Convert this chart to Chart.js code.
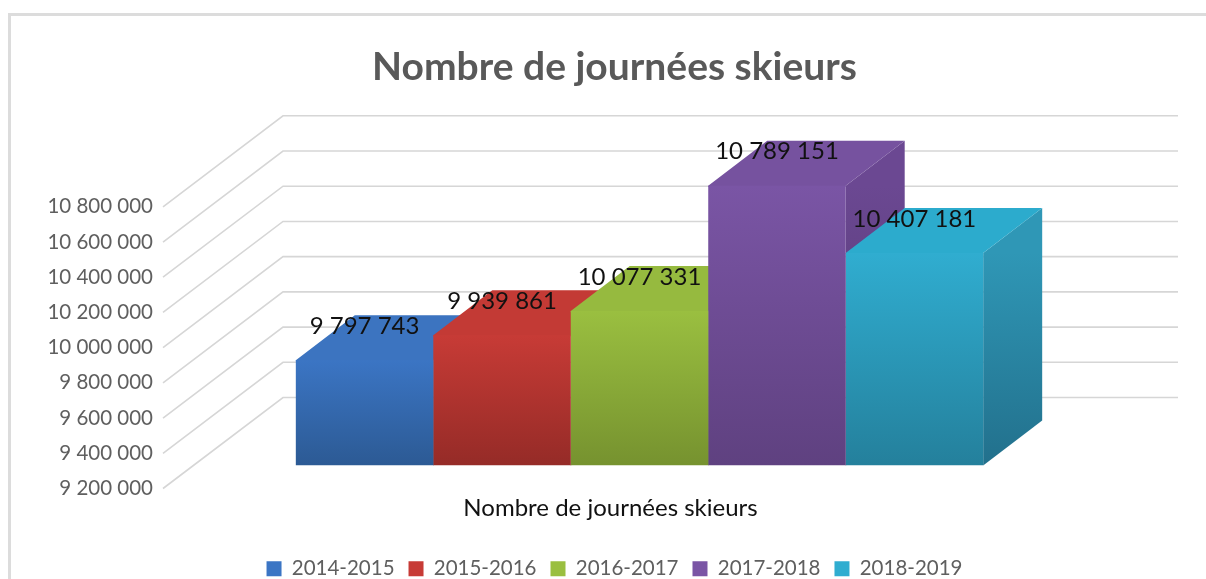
<!DOCTYPE html>
<html lang="fr">
<head>
  <meta charset="UTF-8">
  <title>Nombre de journées skieurs</title>
  <script src="https://cdn.jsdelivr.net/npm/chart.js"></script>
  <style>
    html, body { margin: 0; padding: 0; background: #fff; overflow: hidden; }
    #wrap { position: relative; width: 1206px; height: 579px; }
    #frame { position: absolute; left: 8px; top: 13px; width: 1300px; height: 700px; border: 3px solid #dcdcdc; }
    canvas { position: absolute; left: 0; top: 0; }
  </style>
</head>
<body>
  <div id="wrap">
    <div id="frame"></div>
    <canvas id="chart" width="1206" height="579"></canvas>
  </div>

  <script>
    const categories = ['Nombre de journées skieurs'];
    const seasons = ['2014-2015', '2015-2016', '2016-2017', '2017-2018', '2018-2019'];
    const skierDays = [9797743, 9939861, 10077331, 10789151, 10407181];
    const axisMin = 9200000;
    const axisMax = 10800000;
    const axisStep = 200000;

    // front face gradient, top and bottom of a bar
    const topColors = ['#3b75c4', '#c73b36', '#9abf40', '#7a55a5', '#30add0'];
    const bottomColors = ['#2c5a94', '#952b27', '#76922f', '#5f4180', '#24809c'];
    const sideTop = ['#33659f', '#ab322e', '#84a337', '#6b4892', '#2f97b6'];
    const sideBottom = ['#264c7d', '#7e2421', '#637b28', '#50376c', '#22708c'];
    const roofColors = ['#3c74c0', '#c33a35', '#96ba3f', '#76529f', '#2cabcd'];

    // oblique projection of the 3D box
    const wallDepth = { x: 120, y: -91 };
    const barOffset = { x: 29, y: -23 };
    const barDepth = { x: 59, y: -45 };

    const spaced = v => String(v).replace(/\B(?=(\d{3})+$)/g, ' ');

    function frontGradient(ctx) {
      const i = ctx.datasetIndex;
      const y = ctx.chart.scales.y;
      if (ctx.type !== 'data' || !y) return topColors[i];
      const top = y.getPixelForValue(skierDays[i]);
      // the scale has no size yet on the first pass
      if (!isFinite(top) || !isFinite(y.bottom)) return topColors[i];
      const g = ctx.chart.ctx.createLinearGradient(0, top, 0, y.bottom);
      g.addColorStop(0, topColors[i]);
      g.addColorStop(1, bottomColors[i]);
      return g;
    }

    function poly(ctx, pts, fill) {
      ctx.beginPath();
      pts.forEach((p, n) => n ? ctx.lineTo(p[0], p[1]) : ctx.moveTo(p[0], p[1]));
      ctx.closePath();
      ctx.fillStyle = fill;
      ctx.fill();
    }

    const box3d = {
      id: 'box3d',
      beforeDatasetsDraw(chart) {
        const ctx = chart.ctx;
        const yScale = chart.scales.y;
        const left = yScale.right;
        const farRight = chart.scales.x.right + wallDepth.x;

        // walls
        ctx.save();
        ctx.strokeStyle = '#d6d6d6';
        ctx.lineWidth = 1.6;
        yScale.ticks.forEach(t => {
          const y = yScale.getPixelForValue(t.value);
          ctx.beginPath();
          ctx.moveTo(left, y);
          ctx.lineTo(left + wallDepth.x, y + wallDepth.y);
          ctx.lineTo(farRight, y + wallDepth.y);
          ctx.stroke();
        });
        ctx.restore();

        // sides and roofs, left to right, the front faces come on top
        ctx.save();
        ctx.translate(barOffset.x, barOffset.y);
        seasons.forEach((s, i) => {
          const bar = chart.getDatasetMeta(i).data[0];
          const l = bar.x - bar.width / 2;
          const r = bar.x + bar.width / 2;
          const floor = yScale.bottom;
          const side = ctx.createLinearGradient(0, bar.y, 0, floor);
          side.addColorStop(0, sideTop[i]);
          side.addColorStop(1, sideBottom[i]);
          poly(ctx, [[r, bar.y], [r + barDepth.x, bar.y + barDepth.y], [r + barDepth.x, floor + barDepth.y], [r, floor]], side);
          // 1px under the front edge so nothing shows through the seam
          poly(ctx, [[l, bar.y + 1], [l, bar.y], [l + barDepth.x, bar.y + barDepth.y], [r + barDepth.x, bar.y + barDepth.y], [r, bar.y], [r, bar.y + 1]], roofColors[i]);
        });
        // stays translated for the native bars, undone in afterDatasetsDraw
      },
      afterDatasetsDraw(chart) {
        const ctx = chart.ctx;
        ctx.restore();

        // value labels
        ctx.save();
        ctx.font = '24px Lato';
        ctx.fillStyle = '#111';
        ctx.textAlign = 'center';
        ctx.textBaseline = 'middle';
        skierDays.forEach((v, i) => {
          const bar = chart.getDatasetMeta(i).data[0];
          ctx.fillText(spaced(v), bar.x + barOffset.x, bar.y + barOffset.y - 34);
        });
        ctx.restore();
      }
    };

    new Chart(document.getElementById('chart'), {
      type: 'bar',
      data: {
        labels: categories,
        datasets: seasons.map((s, i) => ({
          label: s,
          data: [skierDays[i]],
          base: axisMin,
          backgroundColor: frontGradient,
          borderWidth: 0,
          barPercentage: 1,
          categoryPercentage: 0.768
        }))
      },
      options: {
        responsive: false,
        animation: false,
        layout: { padding: { left: 23, right: 0, top: 0, bottom: -10 } },
        scales: {
          x: {
            grid: { display: false, drawTicks: false },
            border: { display: false },
            ticks: { color: '#111', font: { family: 'Lato', size: 24 }, padding: 5 },
            afterFit: s => { s.height = 56; }
          },
          y: {
            min: axisMin,
            max: axisMax,
            grid: { display: false, drawTicks: false },
            border: { display: false },
            ticks: {
              stepSize: axisStep,
              color: '#5f5f5f',
              padding: 10,
              font: { family: 'Lato', size: 20.5 },
              callback: v => spaced(v)
            },
            afterFit: s => { s.width = 140; }
          },
          // empty axis, keeps the floor clear of the far wall
          spacer: {
            position: 'right',
            grid: { display: false },
            border: { display: false },
            ticks: { display: false },
            afterFit: s => { s.width = 148; }
          }
        },
        plugins: {
          title: {
            display: true,
            text: 'Nombre de journées skieurs',
            color: '#595959',
            font: { family: 'Lato', size: 39, weight: 'bold' },
            padding: { top: 44, bottom: 116 }
          },
          legend: {
            position: 'bottom',
            labels: {
              boxWidth: 15,
              boxHeight: 15,
              padding: 14,
              color: '#5f5f5f',
              font: { family: 'Lato', size: 20.5 },
              // the bar gradient has no meaning down here
              generateLabels: chart => Chart.defaults.plugins.legend.labels.generateLabels(chart)
                .map((item, i) => ({ ...item, fillStyle: topColors[i] }))
            }
          },
          tooltip: { enabled: false }
        }
      },
      plugins: [box3d]
    });
  </script>
</body>
</html>
